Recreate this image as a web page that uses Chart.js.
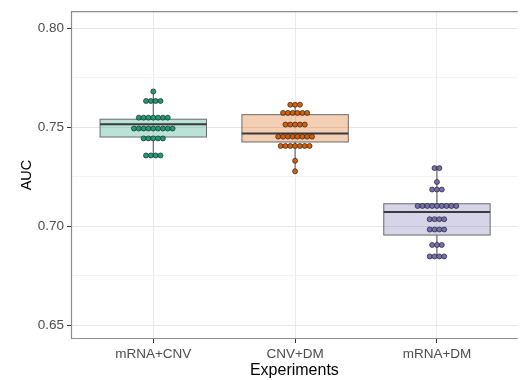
<!DOCTYPE html>
<html>
<head>
<meta charset="utf-8">
<script src="https://cdn.jsdelivr.net/npm/chart.js@4.4.1/dist/chart.umd.min.js"></script>
<style>
  html, body { margin: 0; padding: 0; background: #fff; }
  #wrap { width: 521px; height: 380px; }
</style>
</head>
<body>
<div id="wrap"><canvas id="auc"></canvas></div>
<script>
const categories = ["mRNA+CNV", "CNV+DM", "mRNA+DM"];
const yMajorTicks = [0.65, 0.70, 0.75, 0.80];
const yMinorTicks = [0.675, 0.725, 0.775];

// individual AUC values
const mrnaCnv = [
  0.7680,
  0.7632, 0.7632, 0.7632, 0.7632,
  0.7548, 0.7548, 0.7548, 0.7548, 0.7548, 0.7548, 0.7548,
  0.7493, 0.7493, 0.7493, 0.7493, 0.7493, 0.7493, 0.7493, 0.7493, 0.7493,
  0.7443, 0.7443, 0.7443, 0.7443, 0.7443,
  0.7357, 0.7357, 0.7357, 0.7357
];
const cnvDm = [
  0.7613, 0.7613, 0.7613,
  0.7572, 0.7572, 0.7572, 0.7572, 0.7572, 0.7572,
  0.7513, 0.7513, 0.7513, 0.7513, 0.7513,
  0.7452, 0.7452, 0.7452, 0.7452, 0.7452, 0.7452, 0.7452, 0.7452,
  0.7405, 0.7405, 0.7405, 0.7405, 0.7405, 0.7405, 0.7405,
  0.7330,
  0.7277
];
const mrnaDm = [
  0.7293, 0.7293,
  0.7223,
  0.7185, 0.7185, 0.7185,
  0.7102, 0.7102, 0.7102, 0.7102, 0.7102, 0.7102, 0.7102, 0.7102, 0.7102,
  0.7035, 0.7035, 0.7035, 0.7035,
  0.6983, 0.6983, 0.6983, 0.6983,
  0.6905, 0.6905, 0.6905,
  0.6847, 0.6847, 0.6847, 0.6847
];

// box statistics: [whiskerLow, q1, median, q3, whiskerHigh]
const boxStats = [
  [0.7357, 0.7450, 0.7515, 0.7540, 0.7680],
  [0.7277, 0.7425, 0.7468, 0.7563, 0.7613],
  [0.6847, 0.6955, 0.7072, 0.7113, 0.7293]
];

const dotColors = ["#1b9e77", "#d95f02", "#7570b3"];
const boxColors = ["rgba(27,158,119,0.3)", "rgba(217,95,2,0.3)", "rgba(117,112,179,0.3)"];
const dotStep = 0.034;
const boxWidth = 0.75;

// stack equal values side by side, centred on the category
function dotPoints(values, pos) {
  const rows = {};
  values.forEach((v) => { (rows[v] = rows[v] || []).push(v); });
  const pts = [];
  Object.keys(rows).forEach((k) => {
    const n = rows[k].length;
    rows[k].forEach((v, i) => {
      pts.push({ x: pos + (i - (n - 1) / 2) * dotStep, y: v });
    });
  });
  return pts;
}

const groups = [mrnaCnv, cnvDm, mrnaDm];

const boxPlugin = {
  id: "boxes",
  beforeDatasetsDraw(chart) {
    const { ctx, scales: { x, y } } = chart;
    boxStats.forEach((s, i) => {
      const pos = i + 1;
      const cx = x.getPixelForValue(pos);
      const left = x.getPixelForValue(pos - boxWidth / 2);
      const right = x.getPixelForValue(pos + boxWidth / 2);
      ctx.save();
      ctx.strokeStyle = "#4d4d4d";
      ctx.lineWidth = 1;
      ctx.beginPath();
      ctx.moveTo(cx, y.getPixelForValue(s[0]));
      ctx.lineTo(cx, y.getPixelForValue(s[1]));
      ctx.moveTo(cx, y.getPixelForValue(s[3]));
      ctx.lineTo(cx, y.getPixelForValue(s[4]));
      ctx.stroke();
      const top = y.getPixelForValue(s[3]);
      const bottom = y.getPixelForValue(s[1]);
      ctx.fillStyle = boxColors[i];
      ctx.fillRect(left, top, right - left, bottom - top);
      ctx.strokeStyle = "#6a6a6a";
      ctx.strokeRect(left, top, right - left, bottom - top);
      ctx.lineWidth = 2;
      ctx.strokeStyle = "#3a3a3a";
      ctx.beginPath();
      ctx.moveTo(left, y.getPixelForValue(s[2]));
      ctx.lineTo(right, y.getPixelForValue(s[2]));
      ctx.stroke();
      ctx.restore();
    });
  },
  afterDatasetsDraw(chart) {
    // panel frame: top, left, bottom (right edge is cut off in the figure)
    const { ctx, chartArea: a } = chart;
    ctx.save();
    ctx.strokeStyle = "#8c8c8c";
    ctx.lineWidth = 1.2;
    ctx.beginPath();
    ctx.moveTo(a.right, a.top + 0.5);
    ctx.lineTo(a.left + 0.5, a.top + 0.5);
    ctx.lineTo(a.left + 0.5, a.bottom - 0.5);
    ctx.lineTo(a.right, a.bottom - 0.5);
    ctx.stroke();
    ctx.restore();
  }
};

const isMajor = (v) => yMajorTicks.some((t) => Math.abs(t - v) < 1e-9);

new Chart(document.getElementById("auc"), {
  type: "scatter",
  data: {
    datasets: groups.map((g, i) => ({
      label: categories[i],
      data: dotPoints(g, i + 1),
      backgroundColor: dotColors[i],
      borderColor: "#222",
      borderWidth: 0.7,
      pointRadius: 2.5,
      pointHoverRadius: 2.5
    }))
  },
  options: {
    responsive: true,
    maintainAspectRatio: false,
    animation: false,
    layout: { padding: { top: 10, right: 0, left: 0, bottom: 0 } },
    plugins: {
      legend: { display: false },
      tooltip: { enabled: false }
    },
    scales: {
      x: {
        type: "linear",
        min: 0.42,
        max: 3.57,
        afterFit: (scale) => { scale.height = 41; },
        afterBuildTicks: (scale) => {
          scale.ticks = categories.map((c, i) => ({ value: i + 1 }));
        },
        ticks: {
          autoSkip: false,
          maxRotation: 0,
          padding: 3,
          color: "#4d4d4d",
          font: { family: "Liberation Sans", size: 13.5 },
          callback: (v) => categories[Math.round(v) - 1]
        },
        grid: {
          color: "#ebebeb",
          tickColor: "#333",
          tickLength: 4
        },
        border: { display: false },
        title: {
          display: true,
          text: "Experiments",
          color: "#000",
          font: { family: "Liberation Sans", size: 16 },
          padding: { top: 0, bottom: 0 }
        }
      },
      y: {
        min: 0.643,
        max: 0.8086,
        afterFit: (scale) => { scale.width = 71; },
        afterBuildTicks: (scale) => {
          scale.ticks = yMajorTicks.concat(yMinorTicks).sort().map((v) => ({ value: v }));
        },
        ticks: {
          padding: 3,
          color: "#4d4d4d",
          font: { family: "Liberation Sans", size: 13.5 },
          callback: (v) => (isMajor(v) ? v.toFixed(2) : "")
        },
        grid: {
          color: (c) => (c.tick && isMajor(c.tick.value) ? "#e6e6e6" : "#f3f3f3"),
          tickColor: (c) => (c.tick && isMajor(c.tick.value) ? "#333" : "rgba(0,0,0,0)"),
          tickLength: 4
        },
        border: { display: false },
        title: {
          display: true,
          text: "AUC",
          color: "#000",
          font: { family: "Liberation Sans", size: 14.5 },
          padding: { top: 18, bottom: 0 }
        }
      }
    }
  },
  plugins: [boxPlugin]
});
</script>
</body>
</html>
